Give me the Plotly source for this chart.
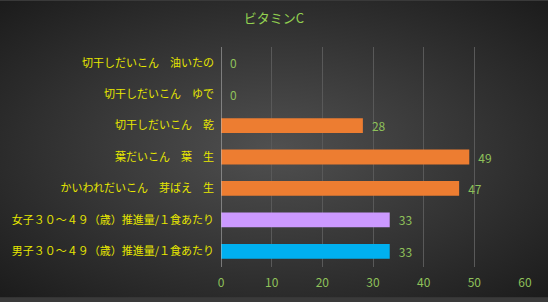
import plotly.graph_objects as go
import base64

categories = [
    "切干しだいこん　油いたの",
    "切干しだいこん　ゆで",
    "切干しだいこん　乾",
    "葉だいこん　葉　生",
    "かいわれだいこん　芽ばえ　生",
    "女子３０～４９（歳）推進量/１食あたり",
    "男子３０～４９（歳）推進量/１食あたり",
]
values = [0, 0, 28, 49, 47, 33.3, 33.3]
labels = ["0", "0", "28", "49", "47", "33", "33"]
colors = ["#ed7d31", "#ed7d31", "#ed7d31", "#ed7d31", "#ed7d31", "#cc99ff", "#00b0f0"]
x_ticks = [0, 10, 20, 30, 40, 50, 60]

svg = ('<svg xmlns="http://www.w3.org/2000/svg" width="548" height="302">'
       '<defs><radialGradient id="g" cx="50%" cy="50%" r="70%">'
       '<stop offset="0%" stop-color="#505050"/><stop offset="100%" stop-color="#1c1c1c"/>'
       '</radialGradient></defs><rect width="548" height="302" fill="url(#g)"/></svg>')
bg = "data:image/svg+xml;base64," + base64.b64encode(svg.encode()).decode()

fig = go.Figure()
fig.add_trace(go.Bar(
    y=categories, x=values, orientation="h",
    marker=dict(color=colors, line=dict(width=0)),
    width=0.47,
    text=["\u2002" + t for t in labels], textposition="outside",
    constraintext="none",
    textfont=dict(color="#8fc15a", size=12, family="Noto Sans CJK JP"),
    cliponaxis=False,
))

fig.update_layout(
    width=548, height=302,
    margin=dict(l=221, r=23, t=47, b=31),
    paper_bgcolor="#3a3a3a",
    plot_bgcolor="rgba(0,0,0,0)",
    images=[dict(source=bg, xref="paper", yref="paper", x=-221/304, y=1+47/224,
                 sizex=548/304, sizey=302/224, sizing="stretch", layer="below",
                 xanchor="left", yanchor="top")],
    title=dict(text="ビタミンC", x=0.5, xanchor="center", y=1 - 18/302, yanchor="middle",
               font=dict(color="#92d050", size=13, family="Noto Sans CJK JP")),
    showlegend=False,
)
fig.update_xaxes(range=[0, 60], tickvals=x_ticks, showgrid=True, gridcolor="#595959",
                 gridwidth=1, zeroline=False, showline=False, ticks="",
                 ticklabelstandoff=7,
                 tickfont=dict(color="#8fc15a", size=12, family="Noto Sans CJK JP"))
fig.update_yaxes(categoryorder="array", categoryarray=categories[::-1],
                 showgrid=False, zeroline=False, showline=False, ticks="",
                 ticklabelstandoff=6,
                 tickfont=dict(color="#e6e600", size=11, family="Noto Sans CJK JP"))
fig.add_shape(type="line", xref="x", yref="paper", x0=0, x1=0, y0=0, y1=1,
              line=dict(color="#bfbfbf", width=1))

fig.write_html("out.html")
